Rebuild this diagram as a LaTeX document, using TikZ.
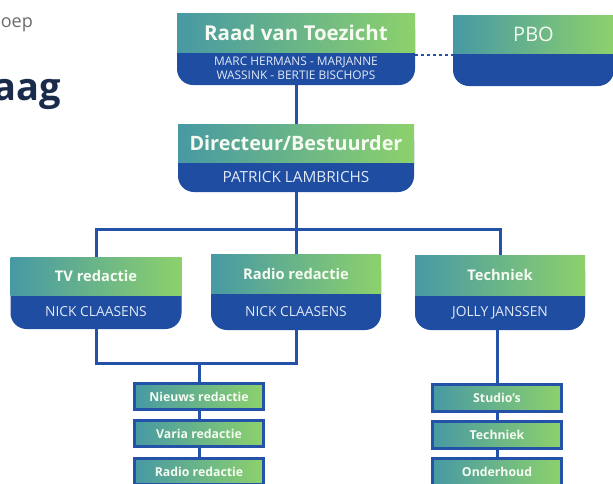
\documentclass[tikz,border=0pt]{standalone}
\usepackage{fontspec}
\setmainfont{Open Sans}
\newfontfamily\opensans{Open Sans}
\definecolor{gradL}{HTML}{4799A4}
\definecolor{gradR}{HTML}{8DD16C}
\definecolor{cardblue}{HTML}{1F4DA1}
\definecolor{linecol}{HTML}{2452A8}
\definecolor{namewhite}{HTML}{E2EAF6}
\definecolor{titlewhite}{HTML}{F6FBF2}
\definecolor{greytext}{HTML}{6B6B6B}
\definecolor{navytext}{HTML}{1A2B4C}
\begin{document}
\begin{tikzpicture}[x=1pt,y=-1pt,
  card/.style={fill=cardblue, rounded corners=16pt, inner sep=0pt},
  cardtop/.style={left color=gradL, right color=gradR, inner sep=0pt, text=titlewhite},
  bigtitle/.style={font=\bfseries\fontsize{20.5}{22}\selectfont},
  midtitle/.style={font=\bfseries\fontsize{14.7}{17}\selectfont},
  cardname/.style={text=namewhite, align=center, inner sep=0pt, font=\fontsize{13.8}{15}\selectfont},
  subbox/.style={left color=gradL, right color=gradR, draw=linecol, line width=3pt, inner sep=0pt,
    minimum width=129pt, minimum height=26.5pt, text=titlewhite, font=\bfseries\fontsize{12.3}{13}\selectfont},
  conn/.style={draw=linecol, line width=3pt},
  dotconn/.style={draw=linecol, line width=2.6pt, dash pattern=on 2.6pt off 3.4pt},
]
\clip (0,0) rectangle (613,483);
\useasboundingbox (0,0) rectangle (613,483);

% cropped header texts
\node[anchor=base east, inner sep=0pt, text=greytext, font=\opensans\fontsize{18}{20}\selectfont] (hdrA) at (33,27) {oep};
\node[anchor=base east, inner sep=0pt, text=navytext, font=\opensans\bfseries\fontsize{38}{40}\selectfont] (hdrB) at (61,100) {aag};

% Raad van Toezicht
\node[card, minimum width=238pt, minimum height=72pt] (raad) at (296,49) {};
\node[cardtop, bigtitle, minimum width=238pt, minimum height=39pt] (raadT) at (296,32.5) {Raad van Toezicht};
\node[cardname, font=\fontsize{11.9}{14}\selectfont] (raadN) at (296,68.5) {MARC HERMANS - MARJANNE\\WASSINK - BERTIE BISCHOPS};

% PBO
\node[card, minimum width=161pt, minimum height=71pt] (pbo) at (533.5,50.5) {};
\node[cardtop, minimum width=161pt, minimum height=38pt, font=\fontsize{20}{22}\selectfont] (pboT) at (533.5,34) {PBO};

% Directeur
\node[card, minimum width=236pt, minimum height=68pt] (dir) at (296,158) {};
\node[cardtop, font=\bfseries\fontsize{19.8}{22}\selectfont, minimum width=236pt, minimum height=38pt] (dirT) at (296,143) {Directeur/Bestuurder};
\node[cardname, font=\fontsize{15.3}{17}\selectfont] (dirN) at (296,177) {PATRICK LAMBRICHS};

% TV redactie
\node[card, minimum width=171pt, minimum height=72pt] (tv) at (96,293) {};
\node[cardtop, midtitle, minimum width=171pt, minimum height=38pt] (tvT) at (96,276) {TV redactie};
\node[cardname] (tvN) at (96,312) {NICK CLAASENS};

% Radio redactie
\node[card, minimum width=170pt, minimum height=76pt] (radio) at (296,292) {};
\node[cardtop, midtitle, minimum width=170pt, minimum height=39pt] (radioT) at (296,273.5) {Radio redactie};
\node[cardname] (radioN) at (296,311.5) {NICK CLAASENS};

% Techniek
\node[card, minimum width=170pt, minimum height=75pt] (tech) at (500,292.5) {};
\node[cardtop, midtitle, minimum width=170pt, minimum height=40pt] (techT) at (500,275) {Techniek};
\node[cardname] (techN) at (500,312.5) {JOLLY JANSSEN};

% sub boxes left
\node[subbox] (nieuws) at (199,396.5) {Nieuws redactie};
\node[subbox] (varia) at (199,433.5) {Varia redactie};
\node[subbox] (radiored) at (199,471.5) {Radio redactie};

% sub boxes right
\node[subbox] (studio) at (497,398) {Studio's};
\node[subbox] (techsub) at (497,435) {Techniek};
\node[subbox] (onderhoud) at (497,472) {Onderhoud};

% connectors
\draw[dotconn] ([yshift=-6pt]raad.east) -- ([yshift=-6pt]raad.east -| pbo.west);
\draw[conn] (raad.south) -- (dir.north);
\coordinate (bus) at (296,229);
\draw[conn] (dir.south) -- (bus);
\draw[conn] (tv.north) |- (bus) -| (tech.north);
\draw[conn] (bus) -- (radio.north);
\coordinate (bracket) at (199,363);
\draw[conn] (tv.south) |- (bracket) -| (radio.south);
\draw[conn] (bracket) -- (nieuws.north);
\draw[conn] (nieuws.south) -- (varia.north);
\draw[conn] (varia.south) -- (radiored.north);
\draw[conn] (tech.south -| studio.north) -- (studio.north);
\draw[conn] (studio.south) -- (techsub.north);
\draw[conn] (techsub.south) -- (onderhoud.north);
\end{tikzpicture}
\end{document}
